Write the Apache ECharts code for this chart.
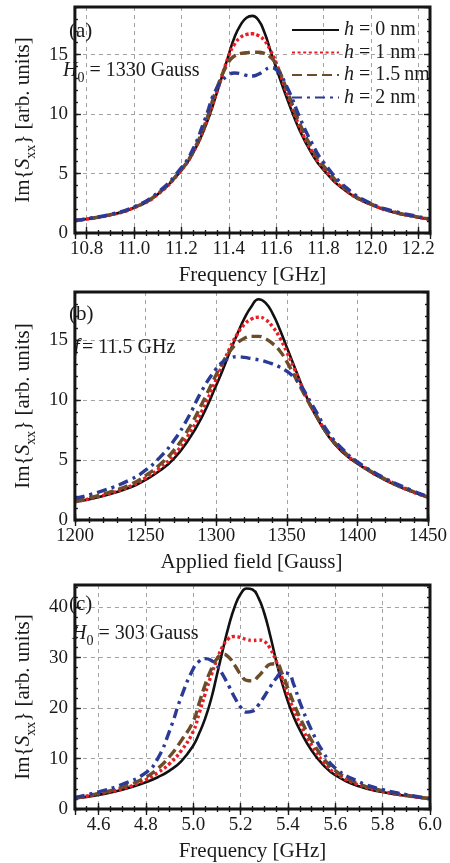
<!DOCTYPE html>
<html><head><meta charset="utf-8">
<script src="https://cdn.jsdelivr.net/npm/echarts@6/dist/echarts.min.js"></script>
<style>html,body{margin:0;padding:0;background:#fff}#c{width:450px;height:863px}</style>
</head><body><div id="c"></div>
<script>
// ---------- data ----------
const seriesNames = ['h = 0 nm', 'h = 1 nm', 'h = 1.5\u2009nm', 'h = 2 nm'];

// Panel (a): H0 = 1330 Gauss, x = frequency [GHz]
const freqA = [10.75, 10.8, 10.9, 11.0, 11.1, 11.2, 11.25, 11.3, 11.35, 11.4, 11.425, 11.45, 11.475, 11.5, 11.525, 11.55, 11.575, 11.6, 11.65, 11.7, 11.75, 11.8, 11.9, 12.0, 12.1, 12.2, 12.25];
const a_h0  = [1.05, 1.17, 1.52, 2.12, 3.25, 5.27, 6.75, 8.9, 11.8, 15.0, 16.5, 17.5, 18.1, 18.25, 17.9, 16.9, 15.4, 13.9, 11.1, 8.6, 6.7, 5.3, 3.45, 2.39, 1.72, 1.31, 1.14];
const a_h1  = [1.05, 1.17, 1.52, 2.12, 3.25, 5.3, 6.8, 9.0, 11.9, 14.9, 15.9, 16.45, 16.7, 16.75, 16.6, 16.2, 15.4, 14.3, 11.5, 8.9, 6.9, 5.45, 3.5, 2.42, 1.74, 1.32, 1.15];
const a_h15 = [1.06, 1.18, 1.54, 2.15, 3.3, 5.35, 6.9, 9.2, 12.2, 14.4, 14.9, 15.1, 15.15, 15.2, 15.2, 15.1, 14.8, 14.2, 11.8, 9.2, 7.2, 5.65, 3.6, 2.45, 1.77, 1.34, 1.16];
const a_h2  = [1.07, 1.2, 1.57, 2.2, 3.4, 5.5, 7.1, 9.6, 12.2, 13.3, 13.45, 13.4, 13.25, 13.2, 13.35, 13.65, 13.9, 13.75, 12.1, 9.7, 7.6, 5.95, 3.75, 2.5, 1.82, 1.38, 1.18];

// Panel (b): f = 11.5 GHz, x = applied field [Gauss]
const fieldB = [1200, 1220, 1240, 1250, 1260, 1270, 1280, 1290, 1300, 1305, 1310, 1315, 1320, 1325, 1330, 1335, 1340, 1345, 1350, 1355, 1360, 1365, 1370, 1380, 1390, 1400, 1420, 1440, 1450];
const b_h0  = [1.5, 2.0, 2.75, 3.35, 4.1, 5.1, 6.6, 8.6, 11.2, 12.6, 14.1, 15.5, 16.8, 17.8, 18.4, 18.1, 17.2, 15.9, 14.4, 12.9, 11.4, 10.0, 8.8, 6.9, 5.6, 4.7, 3.3, 2.3, 1.9];
const b_h1  = [1.52, 2.05, 2.85, 3.5, 4.3, 5.4, 7.0, 9.1, 11.7, 13.1, 14.4, 15.5, 16.3, 16.75, 16.9, 16.7, 16.1, 15.2, 14.0, 12.7, 11.3, 10.0, 8.9, 7.0, 5.7, 4.75, 3.35, 2.3, 1.9];
const b_h15 = [1.58, 2.15, 3.0, 3.7, 4.6, 5.8, 7.5, 9.7, 12.1, 13.2, 14.1, 14.75, 15.15, 15.3, 15.3, 15.1, 14.7, 14.1, 13.2, 12.1, 11.0, 9.9, 8.9, 7.0, 5.75, 4.8, 3.4, 2.35, 1.9];
const b_h2  = [1.8, 2.45, 3.4, 4.15, 5.2, 6.6, 8.5, 10.8, 12.6, 13.2, 13.5, 13.6, 13.55, 13.45, 13.35, 13.2, 13.0, 12.75, 12.4, 11.9, 11.2, 10.2, 9.2, 7.2, 5.85, 4.85, 3.45, 2.4, 1.95];

// Panel (c): H0 = 303 Gauss, x = frequency [GHz]
const freqC = [4.5, 4.6, 4.7, 4.8, 4.85, 4.9, 4.95, 5.0, 5.025, 5.05, 5.075, 5.1, 5.125, 5.15, 5.175, 5.2, 5.225, 5.25, 5.275, 5.3, 5.325, 5.35, 5.375, 5.4, 5.425, 5.45, 5.5, 5.55, 5.6, 5.7, 5.8, 5.9, 6.0];
const c_h0  = [2.1, 2.8, 3.8, 5.3, 6.3, 7.6, 9.5, 12.6, 15.0, 17.9, 21.7, 26.6, 31.6, 36.3, 40.1, 42.6, 43.7, 43.5, 41.9, 38.8, 34.4, 29.4, 25.0, 21.3, 18.2, 15.7, 11.6, 8.7, 6.7, 4.5, 3.35, 2.6, 2.05];
const c_h1  = [2.15, 3.0, 4.0, 5.8, 7.2, 9.0, 11.6, 15.4, 19.0, 22.8, 26.4, 29.6, 32.3, 33.8, 34.2, 34.0, 33.6, 33.4, 33.5, 33.2, 31.8, 29.3, 26.0, 22.6, 19.6, 17.0, 12.6, 9.3, 7.1, 4.75, 3.5, 2.65, 2.05];
const c_h15 = [2.2, 3.1, 4.3, 6.3, 8.0, 10.4, 13.6, 17.4, 21.0, 24.6, 27.6, 29.8, 30.7, 30.1, 28.5, 26.7, 25.5, 25.4, 26.3, 27.6, 28.7, 28.8, 26.9, 23.9, 20.9, 18.2, 13.6, 10.1, 7.6, 5.0, 3.65, 2.75, 2.05];
const c_h2  = [2.3, 3.4, 4.9, 7.2, 10.0, 15.5, 22.3, 27.8, 29.3, 29.8, 29.5, 28.4, 26.6, 24.4, 22.1, 20.2, 19.2, 19.4, 20.6, 22.3, 24.2, 25.9, 27.0, 26.9, 24.6, 21.2, 15.6, 11.2, 8.1, 5.4, 3.85, 2.85, 2.05];

// ---------- styling ----------
const FONT = '"Liberation Serif", "Times New Roman", serif';
const TXT = '#1a1a1a';
const colors = ['#111111', '#ec1c24', '#6d4c29', '#2b3a95'];
const lineStyles = [
  { width: 2.6, type: 'solid' },
  { width: 3.4, type: [3, 2.6] },
  { width: 3.4, type: [10, 5] },
  { width: 3.4, type: [10, 5, 3, 5] }
];

const grids = [
  { left: 60, width: 370, top: 7, height: 226 },
  { left: 60, width: 370, top: 292, height: 228 },
  { left: 60, width: 370, top: 585, height: 225 }
];

const yTitle = 'Im{{it|S}{sb|xx}} [arb. units]';
const yTitleStyle = {
  fontFamily: FONT, fontSize: 21, color: TXT, lineHeight: 30,
  rich: {
    it: { fontStyle: 'italic', fontFamily: FONT, fontSize: 21, color: TXT, lineHeight: 30 },
    sb: { fontFamily: FONT, fontSize: 14, color: TXT, lineHeight: 12, verticalAlign: 'bottom' }
  }
};

function tickStyle(len) {
  return { show: true, inside: true, length: len, lineStyle: { color: TXT, width: 1.4 } };
}

const xAxes = [], yAxes = [];
function addX(g, min, max, major, alignMajor, minor, fmt, name, hideMin, hideMax) {
  const m = alignMajor ? { interval: major } : { minInterval: major, maxInterval: major, splitNumber: 8 };
  const base = { type: 'value', gridIndex: g, min: min, max: max, axisLine: { show: false } };
  xAxes.push(Object.assign({}, base, m, {
    position: 'bottom', axisTick: tickStyle(6),
    axisLabel: { show: true, margin: 7, fontFamily: FONT, fontSize: 19, color: TXT, formatter: fmt,
      showMinLabel: !hideMin, showMaxLabel: !hideMax },
    splitLine: { show: true, lineStyle: { color: '#a3a3a3', width: 1, type: [4, 4] } },
    name: name, nameLocation: 'middle', nameGap: 32,
    nameTextStyle: { fontFamily: FONT, fontSize: 21, color: TXT }
  }));
  xAxes.push(Object.assign({}, base, m, { position: 'top', axisTick: tickStyle(6), axisLabel: { show: false }, splitLine: { show: false } }));
  xAxes.push(Object.assign({}, base, { interval: minor, position: 'bottom', axisTick: tickStyle(3), axisLabel: { show: false }, splitLine: { show: false } }));
  xAxes.push(Object.assign({}, base, { interval: minor, position: 'top', axisTick: tickStyle(3), axisLabel: { show: false }, splitLine: { show: false } }));
}
function addY(g, min, max, major, minor) {
  const base = { type: 'value', gridIndex: g, min: min, max: max, axisLine: { show: false } };
  yAxes.push(Object.assign({}, base, {
    interval: major, position: 'left', axisTick: tickStyle(6),
    axisLabel: { show: true, margin: 7, fontFamily: FONT, fontSize: 19, color: TXT, showMaxLabel: false },
    splitLine: { show: true, lineStyle: { color: '#a3a3a3', width: 1, type: [4, 4] } },
    name: yTitle, nameLocation: 'middle', nameGap: 30, nameRotate: 90,
    nameTextStyle: yTitleStyle
  }));
  yAxes.push(Object.assign({}, base, { interval: major, position: 'right', axisTick: tickStyle(6), axisLabel: { show: false }, splitLine: { show: false } }));
  yAxes.push(Object.assign({}, base, { interval: minor, position: 'left', axisTick: tickStyle(3), axisLabel: { show: false }, splitLine: { show: false } }));
  yAxes.push(Object.assign({}, base, { interval: minor, position: 'right', axisTick: tickStyle(3), axisLabel: { show: false }, splitLine: { show: false } }));
}
const f1 = v => v.toFixed(1);
addX(0, 10.75, 12.25, 0.2, false, 0.05, f1, 'Frequency [GHz]', true, true);
addY(0, 0, 19, 5, 1);
addX(1, 1200, 1450, 50, true, 10, v => String(v), 'Applied field [Gauss]', false, false);
addY(1, 0, 19, 5, 1);
addX(2, 4.5, 6.0, 0.2, false, 0.05, f1, 'Frequency [GHz]', true, false);
addY(2, 0, 44.4, 10, 2);

const panels = [
  { x: freqA, ys: [a_h0, a_h1, a_h15, a_h2] },
  { x: fieldB, ys: [b_h0, b_h1, b_h15, b_h2] },
  { x: freqC, ys: [c_h0, c_h1, c_h15, c_h2] }
];
const series = [];
panels.forEach((p, g) => {
  p.ys.forEach((ys, k) => {
    series.push({
      type: 'line', name: seriesNames[k], xAxisIndex: g * 4, yAxisIndex: g * 4,
      data: p.x.map((x, i) => [x, ys[i]]),
      smooth: 0.5, showSymbol: false, symbol: 'none',
      color: colors[k],
      lineStyle: Object.assign({ color: colors[k], cap: 'butt' }, lineStyles[k]),
      z: 2 + k, clip: true, animation: false
    });
  });
});

function label(x, y, text) {
  return { type: 'text', x: x, y: y, z: 10,
    style: { text: text, rich: {
      it: { fontStyle: 'italic', fontFamily: FONT, fontSize: 20, fill: TXT, lineHeight: 28 },
      n: { fontFamily: FONT, fontSize: 20, fill: TXT, lineHeight: 28 },
      p: { fontFamily: FONT, fontSize: 21, fill: TXT, lineHeight: 28 },
      sb: { fontFamily: FONT, fontSize: 14, fill: TXT, lineHeight: 12, verticalAlign: 'bottom' }
    }, verticalAlign: 'middle', align: 'left' } };
}
function plain(x, y, text, italic) {
  return { type: 'text', x: x, y: y, z: 10,
    style: { text: text, fontFamily: FONT, fontSize: 20, fontStyle: italic ? 'italic' : 'normal',
      fill: TXT, verticalAlign: 'middle', align: 'left' } };
}

const chart = echarts.init(document.getElementById('c'), null, { renderer: 'canvas' });
chart.setOption({
  animation: false,
  backgroundColor: '#ffffff',
  grid: grids.map(g => Object.assign({ show: true, borderColor: '#151515', borderWidth: 3, backgroundColor: 'transparent', z: 6 }, g)),
  xAxis: xAxes,
  yAxis: yAxes,
  legend: {
    orient: 'vertical', left: 286, top: 15, itemWidth: 47, itemHeight: 14, itemGap: 2.5,
    selectedMode: false, data: seriesNames,
    itemStyle: { opacity: 0 },
    formatter: n => '{it|h}{n|' + n.slice(1) + '}',
    textStyle: { fontFamily: FONT, fontSize: 20, color: TXT, rich: {
      it: { fontStyle: 'italic', fontFamily: FONT, fontSize: 20, color: TXT },
      n: { fontFamily: FONT, fontSize: 20, color: TXT }
    } }
  },
  graphic: [
    label(69, 31, '{p|(a)}'),
    label(63, 71, '{it|H}{sb|0}{n| = 1330 Gauss}'),
    label(69, 314, '{p|(b)}'),
    plain(74, 348, 'f', true),
    plain(82, 348, '= 11.5 GHz', false),
    label(69, 604, '{p|(c)}'),
    label(72, 634, '{it|H}{sb|0}{n| = 303 Gauss}')
  ],
  series: series
});
</script>
</body></html>
